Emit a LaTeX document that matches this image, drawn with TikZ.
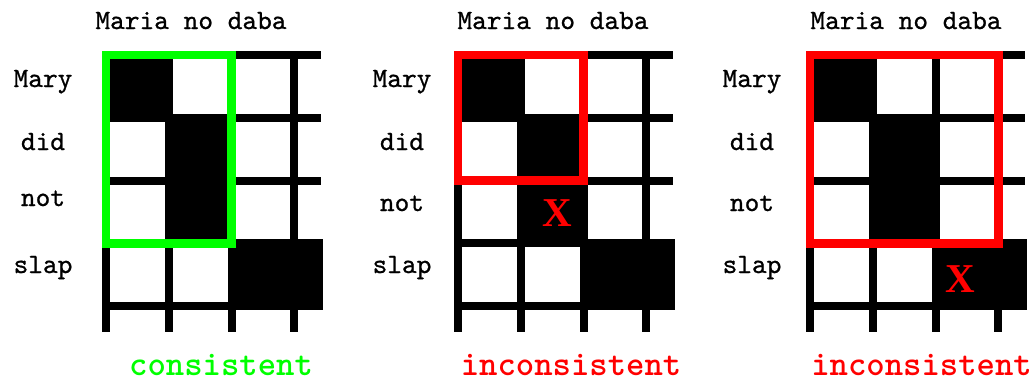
\documentclass[tikz,border=0pt]{standalone}
\usepackage{fontspec}
\newfontfamily\xfont{Liberation Serif}
\newfontfamily\labfont{lmmono10-regular.otf}[FakeBold=0.8]
\definecolor{okgreen}{RGB}{0,255,0}
\definecolor{badred}{RGB}{255,0,0}
\tikzset{
  gridline/.style={line width=8pt, draw=black},
  cellfill/.style={fill=black, draw=black, line width=8pt},
  okbox/.style={draw=okgreen, line width=8.5pt},
  badbox/.style={draw=badred, line width=8.5pt},
  wordlab/.style={font=\labfont\fontsize{28}{30}\selectfont, inner sep=0pt, anchor=base},
  verdict/.style={font=\ttfamily\bfseries\fontsize{35}{38}\selectfont, inner sep=0pt, anchor=base},
  xmark/.style={font=\xfont\bfseries\fontsize{41}{44}\selectfont, text=badred, inner sep=0pt}
}
\newcommand{\amgrid}[1]{%
  \begin{scope}[shift={(#1,0)}]
    \foreach \j in {0,...,4} \draw[gridline] (102,55+62.8*\j) -- (320.7,55+62.8*\j);
    \foreach \i in {0,...,3} \draw[gridline] (106+62.8*\i,51) -- (106+62.8*\i,332);
    \filldraw[cellfill] (106,55) rectangle (168.8,117.8);
    \filldraw[cellfill] (168.8,117.8) rectangle (231.6,243.4);
    \filldraw[cellfill] (231.6,243.4) rectangle (318.5,306.2);
  \end{scope}}
\begin{document}
\begin{tikzpicture}[x=1pt,y=-1pt]
  \useasboundingbox (0,0) rectangle (1036,383);
  \fill[white] (0,0) rectangle (1036,383);
  % grid 1
  \amgrid{0}
  \draw[okbox] (106,55) rectangle (231.6,243.4);
  \node[wordlab] (g1top) at (191,29) {Maria no daba};
  \node[wordlab] (g1r1) at (43,87) {Mary};
  \node[wordlab] (g1r2) at (43,150) {did};
  \node[wordlab] (g1r3) at (43,206) {not};
  \node[wordlab] (g1r4) at (43,273) {slap};
  \node[verdict, text=okgreen] (g1v) at (221,375) {consistent};
  % grid 2
  \amgrid{352}
  \draw[badbox] (458,55) rectangle (583.6,180.6);
  \node[xmark] (g2x) at (557.5,213) {X};
  \node[wordlab] (g2top) at (553,29) {Maria no daba};
  \node[wordlab] (g2r1) at (402,87) {Mary};
  \node[wordlab] (g2r2) at (402,150) {did};
  \node[wordlab] (g2r3) at (402,211) {not};
  \node[wordlab] (g2r4) at (402,273) {slap};
  \node[verdict, text=badred] (g2v) at (571,375) {inconsistent};
  % grid 3
  \amgrid{704}
  \draw[badbox] (810,55) rectangle (998.4,243.4);
  \node[xmark] (g3x) at (960,279) {X};
  \node[wordlab] (g3top) at (906,29) {Maria no daba};
  \node[wordlab] (g3r1) at (752,87) {Mary};
  \node[wordlab] (g3r2) at (752,150) {did};
  \node[wordlab] (g3r3) at (752,211) {not};
  \node[wordlab] (g3r4) at (752,273) {slap};
  \node[verdict, text=badred] (g3v) at (921.5,375) {inconsistent};
\end{tikzpicture}
\end{document}
